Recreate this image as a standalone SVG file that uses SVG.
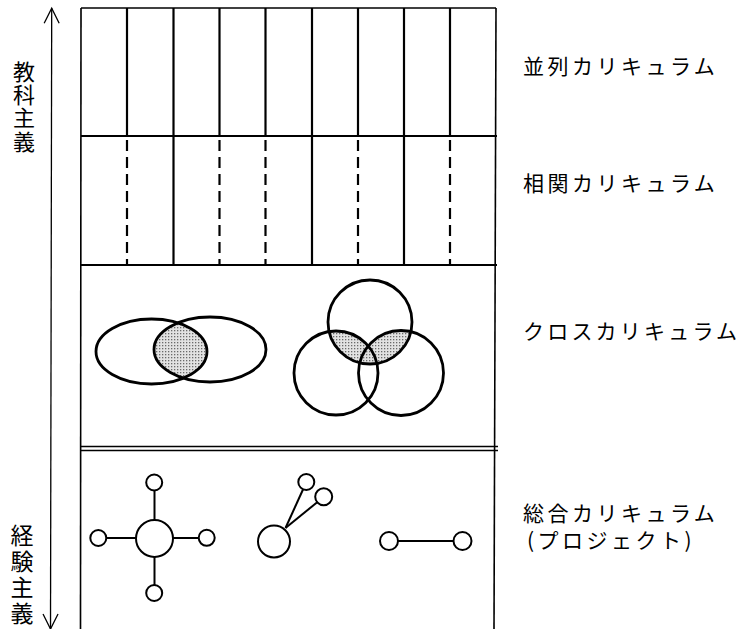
<svg xmlns="http://www.w3.org/2000/svg" width="743" height="629" viewBox="0 0 743 629">
<style>
.ln{stroke:#000;fill:none}
.frame{stroke-width:1.6}
.v{stroke-width:2.2}
.dash{stroke-width:2.2;stroke-dasharray:11 6}
.h{stroke-width:2}
.shape{stroke:#000;stroke-width:2.8;fill:none}
.node{stroke:#000;stroke-width:2;fill:#fff}
.lab{font-family:"Noto Sans CJK JP","Noto Sans CJK SC",sans-serif;font-size:21px;letter-spacing:3.5px;fill:#000}
.side{font-family:"Noto Sans CJK JP","Noto Sans CJK SC",sans-serif;font-size:22px;fill:#000;text-anchor:middle}
</style>
<defs>
<marker id="open" markerUnits="userSpaceOnUse" viewBox="-17 -9 19 18" refX="0" refY="0" markerWidth="19" markerHeight="18" orient="auto-start-reverse">
<path d="M-15,-7.5 L0,0 L-15,7.5" fill="none" stroke="#000" stroke-width="1.3"/>
</marker>
<pattern id="dots" width="3" height="3" patternUnits="userSpaceOnUse">
<rect width="3" height="3" fill="#e2e2e2"/>
<rect width="1.3" height="1.3" fill="#6a6a6a"/>
</pattern>
<clipPath id="clipR"><ellipse cx="210" cy="349.5" rx="56" ry="32.5"/></clipPath>
<clipPath id="clipB"><circle cx="336" cy="373" r="42"/><circle cx="401" cy="373" r="42.5"/></clipPath>
</defs>
<rect width="743" height="629" fill="#fff"/>

<g id="axis">
<line class="ln" x1="51.7" y1="8.3" x2="50.5" y2="629" stroke-width="1.3" marker-start="url(#open)" marker-end="url(#open)"/>
<text class="side" x="24" y="79.5">教</text>
<text class="side" x="24" y="102.5">科</text>
<text class="side" x="24" y="125.5">主</text>
<text class="side" x="24" y="149.5">義</text>
<text class="side" x="22" y="544" style="font-size:23px">経</text>
<text class="side" x="22" y="570" style="font-size:23px">験</text>
<text class="side" x="22" y="596" style="font-size:23px">主</text>
<text class="side" x="22" y="622" style="font-size:23px">義</text>
</g>

<g id="frame">
<line class="ln frame" x1="81" y1="8" x2="496" y2="8"/>
<line class="ln frame" x1="81" y1="8" x2="80.5" y2="629"/>
<line class="ln frame" x1="496" y1="8" x2="494" y2="629"/>
<line class="ln h" x1="81" y1="136" x2="497" y2="136"/>
<line class="ln h" x1="81" y1="265" x2="497" y2="265"/>
<line class="ln frame" x1="81" y1="446.5" x2="498" y2="446.5"/>
<line class="ln frame" x1="81" y1="450.5" x2="498" y2="450.5"/>
</g>

<g id="parallel">
<line class="ln v" x1="127" y1="8" x2="127" y2="136"/>
<line class="ln v" x1="173.5" y1="8" x2="173.5" y2="136"/>
<line class="ln v" x1="219.5" y1="8" x2="219.5" y2="136"/>
<line class="ln v" x1="265.5" y1="8" x2="265.5" y2="136"/>
<line class="ln v" x1="312" y1="8" x2="312" y2="136"/>
<line class="ln v" x1="358" y1="8" x2="358" y2="136"/>
<line class="ln v" x1="404" y1="8" x2="404" y2="136"/>
<line class="ln v" x1="450" y1="8" x2="450" y2="136"/>
<text class="lab" x="523" y="74">並列カリキュラム</text>
</g>

<g id="correlated">
<line class="ln dash" x1="127" y1="140" x2="127" y2="265"/>
<line class="ln v" x1="173.5" y1="136" x2="173.5" y2="265"/>
<line class="ln dash" x1="219.5" y1="140" x2="219.5" y2="265"/>
<line class="ln dash" x1="265.5" y1="140" x2="265.5" y2="265"/>
<line class="ln v" x1="312" y1="136" x2="312" y2="265"/>
<line class="ln dash" x1="358" y1="140" x2="358" y2="265"/>
<line class="ln v" x1="404" y1="136" x2="404" y2="265"/>
<line class="ln dash" x1="450" y1="140" x2="450" y2="265"/>
<text class="lab" x="523" y="191">相関カリキュラム</text>
</g>

<g id="cross">
<ellipse cx="151.5" cy="351.5" rx="55.5" ry="32.5" fill="url(#dots)" stroke="none" clip-path="url(#clipR)"/>
<ellipse class="shape" cx="151.5" cy="351.5" rx="55.5" ry="32.5"/>
<ellipse class="shape" cx="210" cy="349.5" rx="56" ry="32.5"/>
<circle cx="370" cy="322" r="42" fill="url(#dots)" stroke="none" clip-path="url(#clipB)"/>
<circle class="shape" cx="370" cy="322" r="42"/>
<circle class="shape" cx="336" cy="373" r="42"/>
<circle class="shape" cx="401" cy="373" r="42.5"/>
<text class="lab" x="523" y="339" style="letter-spacing:3.2px">クロスカリキュラム</text>
</g>

<g id="connectors">
<line class="ln" stroke-width="2" x1="154.5" y1="490" x2="154.5" y2="520"/>
<line class="ln" stroke-width="2" x1="154.5" y1="557" x2="154.5" y2="585"/>
<line class="ln" stroke-width="2" x1="106" y1="538" x2="136" y2="538"/>
<line class="ln" stroke-width="2" x1="173" y1="538" x2="199" y2="538"/>
<line class="ln" stroke-width="2" x1="285.5" y1="528" x2="303" y2="489.5"/>
<line class="ln" stroke-width="2" x1="285.5" y1="528" x2="317.5" y2="502"/>
<line class="ln" stroke-width="2" x1="398" y1="541" x2="453.5" y2="541"/>
</g>

<g id="integrated">
<circle class="node" cx="154.5" cy="538.5" r="18.5"/>
<circle class="node" cx="154.2" cy="482.5" r="8"/>
<circle class="node" cx="154.2" cy="593" r="8"/>
<circle class="node" cx="98.3" cy="538" r="8"/>
<circle class="node" cx="206.7" cy="537.8" r="8"/>
<circle class="node" cx="274" cy="541.5" r="16"/>
<circle class="node" cx="306.3" cy="482" r="8"/>
<circle class="node" cx="323.7" cy="496.7" r="8.5"/>
<circle class="node" cx="389" cy="541" r="9"/>
<circle class="node" cx="462.5" cy="541" r="9"/>
<text class="lab" x="523" y="521">総合カリキュラム</text>
<text class="lab" x="527" y="548">(プロジェクト)</text>
</g>
</svg>
